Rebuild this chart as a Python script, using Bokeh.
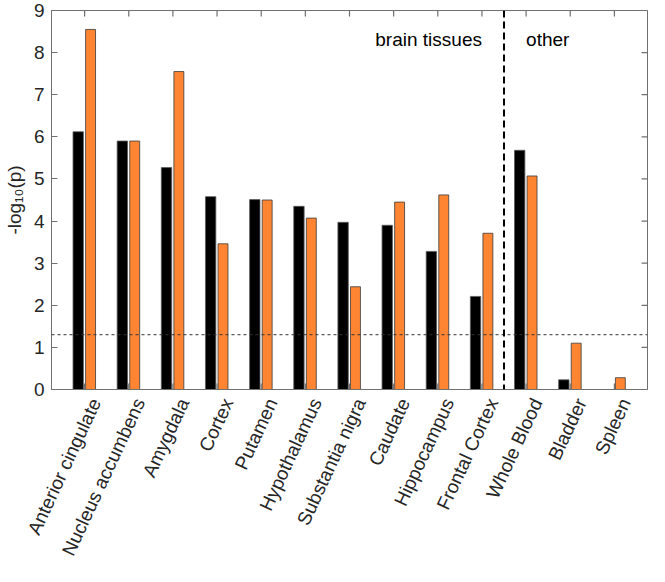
import math
from bokeh.plotting import figure
from bokeh.models import ColumnDataSource, FixedTicker, Range1d, Span, Label
from bokeh.transform import dodge
from bokeh.embed import file_html
from bokeh.resources import INLINE

tissues = ["Anterior cingulate", "Nucleus accumbens", "Amygdala", "Cortex", "Putamen",
           "Hypothalamus", "Substantia nigra", "Caudate", "Hippocampus", "Frontal Cortex",
           "Whole Blood", "Bladder", "Spleen"]
series_black = [6.12, 5.90, 5.27, 4.58, 4.51, 4.35, 3.97, 3.90, 3.28, 2.21, 5.68, 0.23, 0.0]
series_orange = [8.55, 5.90, 7.55, 3.46, 4.50, 4.07, 2.44, 4.45, 4.62, 3.71, 5.07, 1.10, 0.28]
y_ticks = [0, 1, 2, 3, 4, 5, 6, 7, 8, 9]
threshold = 1.301
divider = 10.5
group_labels = ["brain tissues", "other"]

FONT = "Liberation Sans"
TXT = "#262626"
AX = "#707070"

X0, X1, Y0, Y1 = 0.25, 13.75, 0, 9
W, H = 649, 566
BL, BR, BT = 47, 2, 10
FRAME_H = 384
FRAME_W = W - BL - BR
TICK_PX = 6
tick_dy = TICK_PX * (Y1 - Y0) / FRAME_H
tick_dx = TICK_PX * (X1 - X0) / FRAME_W
label_shift = 11 * (X1 - X0) / FRAME_W

xs = list(range(1, len(tissues) + 1))
src = ColumnDataSource(dict(x=xs, black=series_black, orange=series_orange))

p = figure(width=W, height=H, output_backend="svg", toolbar_location=None,
           x_range=Range1d(X0, X1), y_range=Range1d(Y0, Y1),
           min_border_left=BL, min_border_right=BR, min_border_top=BT,
           min_border_bottom=H - BT - FRAME_H)
p.xgrid.visible = False
p.ygrid.visible = False
p.outline_line_color = AX
p.outline_line_width = 1
p.background_fill_color = "white"
p.border_fill_color = "white"

p.vbar(x=dodge("x", -0.145, range=p.x_range), top="black", width=0.235, bottom=0,
       source=src, fill_color="black", line_color="#5a5a5a", line_width=0.8)
p.vbar(x=dodge("x", 0.135, range=p.x_range), top="orange", width=0.225, bottom=0,
       source=src, fill_color="#ff8533", line_color="#3a3a3a", line_width=0.8)

# inward tick marks on bottom, top and right sides (box axes)
p.segment(x0=xs, y0=[Y0] * len(xs), x1=xs, y1=[Y0 + tick_dy] * len(xs),
          line_color=AX, line_width=1.2)
p.segment(x0=xs, y0=[Y1] * len(xs), x1=xs, y1=[Y1 - tick_dy] * len(xs),
          line_color=AX, line_width=1.2)
p.segment(x0=[X1] * len(y_ticks), y0=y_ticks, x1=[X1 - tick_dx] * len(y_ticks), y1=y_ticks,
          line_color=AX, line_width=1.2)

p.add_layout(Span(location=threshold, dimension="width", line_color="#333333",
                  line_width=1, line_dash="3 3"))
p.add_layout(Span(location=divider, dimension="height", line_color="black",
                  line_width=2, line_dash="7 4"))

p.add_layout(Label(x=10.0, y=8.3, text=group_labels[0], text_align="right",
                   text_baseline="middle", text_font=FONT, text_font_size="19px",
                   text_color="black"))
p.add_layout(Label(x=11.0, y=8.3, text=group_labels[1], text_align="left",
                   text_baseline="middle", text_font=FONT, text_font_size="19px",
                   text_color="black"))

label_pos = [x + label_shift for x in xs]
xa = p.xaxis[0]
xa.ticker = FixedTicker(ticks=label_pos)
xa.major_label_overrides = {pos: t for pos, t in zip(label_pos, tissues)}
xa.major_label_orientation = math.radians(65)
xa.major_label_text_font = FONT
xa.major_label_text_font_size = "19px"
xa.major_label_text_color = TXT
xa.major_label_standoff = 10
xa.major_tick_in = 0
xa.major_tick_out = 0
xa.major_tick_line_color = None
xa.minor_tick_line_color = None
xa.axis_line_color = AX

ya = p.yaxis[0]
ya.ticker = FixedTicker(ticks=y_ticks)
ya.major_label_text_font = FONT
ya.major_label_text_font_size = "19px"
ya.major_label_text_color = TXT
ya.major_label_standoff = 7
ya.major_tick_in = 6
ya.major_tick_out = 0
ya.minor_tick_line_color = None
ya.axis_line_color = AX
ya.major_tick_line_color = AX
ya.major_tick_line_width = 1.2
ya.axis_label = "-log\u2081\u2080(p)"
ya.axis_label_text_font = FONT
ya.axis_label_text_font_size = "19px"
ya.axis_label_text_font_style = "normal"
ya.axis_label_text_color = TXT
ya.axis_label_standoff = 6

open("out.html", "w").write(file_html(p, INLINE))
